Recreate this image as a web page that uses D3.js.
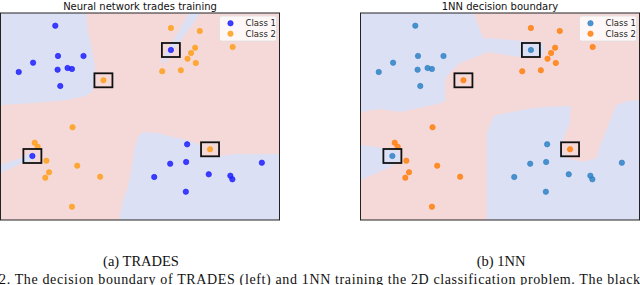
<!DOCTYPE html>
<html>
<head>
<meta charset="utf-8">
<script src="https://cdn.jsdelivr.net/npm/d3@7"></script>
<style>
  body { margin: 0; background: #fff; }
  svg { display: block; }
</style>
</head>
<body>
<svg id="fig"></svg>
<script>
const width = 640
const height = 285

// points (x, y in plot units, y grows downward)
const class1 = [[55,25.7],[57.7,56],[83.3,56],[32.7,62.7],[18.3,72],[57.3,69.7],[67.3,68],[71.7,69],[60,86],[171,50],
                [32,156],[187.3,144.3],[170.3,163.7],[186.3,162],[154.3,177],[209,174.3],[230.7,175.7],[232.7,179.3],[262.3,162.7],[186,191.7]]
const class2 = [[171,28],[200,31],[195.3,47.7],[191.3,53],[187.7,58.7],[196,63],[181,70.3],[162.3,71.3],[233,47],[103.3,80.3],
                [72.3,127.3],[34.3,142.7],[37.3,146.7],[46,160.7],[77,165.7],[48.7,172.3],[45,177.7],[100,176.7],[71.7,206.7],[210.3,149.3]]
// highlighted points (shown in black boxes)
const boxed = [[171,50],[103.3,80.3],[32,156],[210.3,149.3]]

// class 1 regions of each classifier (the rest is class 2)
const tradesRegions = [
  [[0,13],[86,13],[88,33],[92,50],[95,67],[94,83],[92,92],[85,96],[67,100],[33,103],[0,105]],
  [[189,13],[201,13],[186,33],[174,50],[165,63],[161,62],[170,45],[178,33]],
  [[0,165],[20,158],[30,153],[37,155],[33,160],[22,163],[0,173]],
  [[119,220],[123,200],[128,187],[133,160],[135,147],[138,137],[143,132],[157,133],[173,137],[187,140],[200,145],
   [203,156],[220,156],[235,154],[280,154],[280,220]]
]
const nnRegions = [
  [[0,13],[113,13],[118,25],[123,38],[140,39],[162,41],[182,42],[185,50],[182,57],[160,57],[128,52],[100,63],[90,72],
   [85,80],[85,101],[77,104],[40,112],[20,109],[0,112]],
  [[0,145],[22,148],[38,150],[41,160],[30,167],[0,180]],
  [[127,220],[127,150],[127,133],[133,117],[137,115],[167,109],[187,107],[211,106],[210,123],[203,140],[201,150],
   [207,158],[223,162],[237,158],[240,147],[248,127],[254,112],[257,105],[268,101],[280,100],[280,220]]
]

const panels = [
  {x0: 0.5, title: "Neural network trades training", caption: "(a) TRADES", regions: tradesRegions,
   c1: "#1f1fff", c2: "#ff9f1c"},
  {x0: 360.5, title: "1NN decision boundary", caption: "(b) 1NN", regions: nnRegions,
   c1: "#2f82c6", c2: "#ff7f0e"}
]

const svg = d3.select("#fig").attr("width", width).attr("height", height)

const pw = 279, plotTop = 13, plotBottom = 220

panels.forEach(function(p, i) {
  const x = d3.scaleLinear().domain([0, 280]).range([p.x0, p.x0 + pw])
  const y = d3.scaleLinear().domain([13, 220]).range([plotTop, plotBottom])
  const g = svg.append("g")

  const clipId = "clip" + i
  svg.append("clipPath").attr("id", clipId)
     .append("rect").attr("x", p.x0).attr("y", plotTop).attr("width", pw).attr("height", plotBottom - plotTop)

  // class 2 background, class 1 regions on top
  g.append("rect").attr("x", p.x0).attr("y", plotTop).attr("width", pw).attr("height", plotBottom - plotTop)
   .attr("fill", "#f5d9d8")

  const line = d3.line().x(d => x(d[0])).y(d => y(d[1])).curve(d3.curveLinearClosed)
  g.append("g").attr("clip-path", "url(#" + clipId + ")")
   .selectAll("path").data(p.regions).enter().append("path")
   .attr("d", line).attr("fill", "#dbe0f5")

  const dots = g.append("g")
  dots.selectAll(".c1").data(class1).enter().append("circle")
      .attr("cx", d => x(d[0])).attr("cy", d => y(d[1])).attr("r", 2.7)
      .attr("fill", p.c1).attr("fill-opacity", 0.85)
      .attr("stroke", p.c1).attr("stroke-width", 0.6)
  dots.selectAll(".c2").data(class2).enter().append("circle")
      .attr("cx", d => x(d[0])).attr("cy", d => y(d[1])).attr("r", 2.7)
      .attr("fill", p.c2).attr("fill-opacity", 0.85)
      .attr("stroke", p.c2).attr("stroke-width", 0.6)

  g.selectAll(".box").data(boxed).enter().append("rect")
   .attr("x", d => x(d[0]) - 9).attr("y", d => y(d[1]) - 7)
   .attr("width", 18).attr("height", 14)
   .attr("fill", "none").attr("stroke", "#111").attr("stroke-width", 1.8)

  // frame
  g.append("rect").attr("x", p.x0).attr("y", plotTop).attr("width", pw).attr("height", plotBottom - plotTop)
   .attr("fill", "none").attr("stroke", "#222").attr("stroke-width", 1)

  // legend
  const lg = g.append("g").attr("transform", "translate(" + (p.x0 + 219) + "," + 16 + ")")
  lg.append("rect").attr("width", 57).attr("height", 25).attr("rx", 2)
    .attr("fill", "#fff").attr("fill-opacity", 0.8).attr("stroke", "#ddd").attr("stroke-width", 0.8)
  ;[["Class 1", p.c1], ["Class 2", p.c2]].forEach(function(e, k) {
    lg.append("circle").attr("cx", 11).attr("cy", 7.3 + k * 10.4).attr("r", 2.7)
      .attr("fill", e[1]).attr("fill-opacity", 0.85).attr("stroke", e[1]).attr("stroke-width", 0.6)
    lg.append("text").attr("x", 26).attr("y", 10.3 + k * 10.4).text(e[0])
      .attr("font-family", "DejaVu Sans").attr("font-size", 8.5).attr("fill", "#222")
  })

  svg.append("text").attr("x", p.x0 + pw / 2).attr("y", 9.5).attr("text-anchor", "middle")
     .attr("font-family", "DejaVu Sans").attr("font-size", 10).attr("fill", "#111").text(p.title)

  svg.append("text").attr("x", p.x0 + pw / 2 + 1).attr("y", 266).attr("text-anchor", "middle")
     .attr("font-family", "Liberation Serif").attr("font-size", 14.5).attr("fill", "#111").text(p.caption)
})

svg.append("text").attr("x", -1).attr("y", 283.5)
   .attr("font-family", "Liberation Serif").attr("font-size", 14).attr("fill", "#111")
   .attr("textLength", 641).attr("lengthAdjust", "spacing")
   .text("2. The decision boundary of TRADES (left) and 1NN training the 2D classification problem. The black")
</script>
</body>
</html>
